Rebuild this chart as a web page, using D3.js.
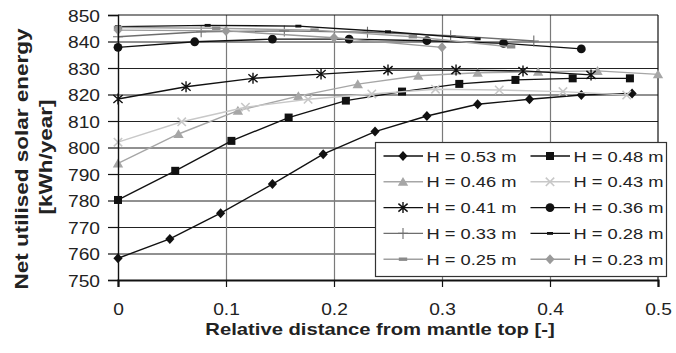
<!DOCTYPE html>
<html>
<head>
<meta charset="utf-8">
<script src="https://cdn.jsdelivr.net/npm/d3@7"></script>
<style>
  body { margin: 0; background: #fff; }
  svg { display: block; font-family: "Liberation Sans", Arial, sans-serif; }
</style>
</head>
<body>
<svg id="chart" width="676" height="353"></svg>
<script>
// tick values
var xTicks = [0, 0.1, 0.2, 0.3, 0.4, 0.5];
var yTicks = [750, 760, 770, 780, 790, 800, 810, 820, 830, 840, 850];

// series
var labels = ["H = 0.53 m", "H = 0.48 m", "H = 0.46 m", "H = 0.43 m", "H = 0.41 m",
              "H = 0.36 m", "H = 0.33 m", "H = 0.28 m", "H = 0.25 m", "H = 0.23 m"];

var x053 = [0, 0.048, 0.095, 0.143, 0.190, 0.238, 0.286, 0.333, 0.381, 0.429, 0.476];
var y053 = [758.2, 765.5, 775.2, 786.2, 797.5, 806.0, 811.9, 816.3, 818.2, 819.8, 820.4];
var x048 = [0, 0.053, 0.105, 0.158, 0.211, 0.263, 0.316, 0.368, 0.421, 0.474];
var y048 = [780.2, 791.2, 802.5, 811.3, 817.7, 821.1, 824.0, 825.5, 826.1, 826.1];
var x046 = [0, 0.056, 0.111, 0.167, 0.222, 0.278, 0.333, 0.389, 0.444, 0.5];
var y046 = [794.0, 805.1, 813.9, 819.4, 823.9, 827.1, 828.2, 828.6, 828.9, 827.6];
var x043 = [0, 0.059, 0.118, 0.176, 0.235, 0.294, 0.353, 0.412, 0.471];
var y043 = [802.0, 809.7, 815.2, 818.2, 820.2, 822.0, 821.7, 821.1, 819.8];
var x041 = [0, 0.063, 0.125, 0.188, 0.25, 0.313, 0.375, 0.438];
var y041 = [818.3, 822.9, 826.1, 827.7, 829.2, 829.2, 828.9, 827.4];
var x036 = [0, 0.071, 0.143, 0.214, 0.286, 0.357, 0.429];
var y036 = [837.8, 839.9, 840.9, 840.9, 840.3, 839.3, 837.2];
var x033 = [0, 0.077, 0.154, 0.231, 0.308, 0.385];
var y033 = [841.8, 843.7, 844.0, 843.5, 842.2, 840.2];
var x028 = [0, 0.083, 0.167, 0.25, 0.333];
var y028 = [845.6, 846.1, 845.8, 843.7, 841.0];
var x025 = [0, 0.091, 0.182, 0.273, 0.364];
var y025 = [845.3, 845.0, 844.3, 841.8, 838.0];
var x023 = [0, 0.1, 0.2, 0.3];
var y023 = [844.3, 844.0, 841.4, 837.8];

var xs = [x053, x048, x046, x043, x041, x036, x033, x028, x025, x023];
var ys = [y053, y048, y046, y043, y041, y036, y033, y028, y025, y023];

// look of each series
var styles = [
  {line: "#111", marker: "diamond", mcolor: "#111"},
  {line: "#111", marker: "square", mcolor: "#111"},
  {line: "#a6a6a6", marker: "triangle", mcolor: "#a6a6a6"},
  {line: "#c8c8c8", marker: "xmark", mcolor: "#c8c8c8"},
  {line: "#111", marker: "star", mcolor: "#111"},
  {line: "#111", marker: "circle", mcolor: "#111"},
  {line: "#6e6e6e", marker: "plus", mcolor: "#6e6e6e"},
  {line: "#111", marker: "dash", mcolor: "#111"},
  {line: "#a0a0a0", marker: "wdash", mcolor: "#8a8a8a"},
  {line: "#9a9a9a", marker: "diamond", mcolor: "#9a9a9a"}
];

var margin = {top: 15, left: 118};
var width = 540, height = 265;
var textCol = "#222";

var svg = d3.select("#chart");
var g = svg.append("g").attr("transform", "translate(" + margin.left + "," + margin.top + ")");

var x = d3.scaleLinear().domain([0, 0.5]).range([0, width]);
var y = d3.scaleLinear().domain([750, 850]).range([height, 0]);

// horizontal grid
g.append("g")
  .call(d3.axisLeft(y).tickValues(yTicks.slice(1, -1)).tickSize(-width).tickFormat(""))
  .call(function(s) { s.select(".domain").remove(); })
  .selectAll("line").attr("stroke", "#222").attr("stroke-width", 1);

// vertical grid
g.append("g")
  .attr("transform", "translate(0," + height + ")")
  .call(d3.axisBottom(x).tickValues(xTicks.slice(1, -1)).tickSize(-height).tickFormat(""))
  .call(function(s) { s.select(".domain").remove(); })
  .selectAll("line").attr("stroke", "#7a7a7a").attr("stroke-width", 1.2);

// frame top and right
g.append("line").attr("x1", 0).attr("x2", width).attr("y1", y(850)).attr("y2", y(850))
  .attr("stroke", "#111").attr("stroke-width", 1.2);
g.append("line").attr("x1", x(0.5)).attr("x2", x(0.5)).attr("y1", 0).attr("y2", height)
  .attr("stroke", "#111").attr("stroke-width", 1.2);

// markers
function marker(sel, type, color) {
  if (type === "diamond") {
    sel.append("path").attr("d", "M0,-5L4.6,0L0,5L-4.6,0Z").attr("fill", color);
  } else if (type === "square") {
    sel.append("rect").attr("x", -4).attr("y", -4).attr("width", 8).attr("height", 8).attr("fill", color);
  } else if (type === "triangle") {
    sel.append("path").attr("d", "M0,-4.8L5.2,4L-5.2,4Z").attr("fill", color);
  } else if (type === "circle") {
    sel.append("circle").attr("r", 4.4).attr("fill", color);
  } else if (type === "xmark") {
    sel.append("path").attr("d", "M-4.2,-4.2L4.2,4.2M-4.2,4.2L4.2,-4.2")
      .attr("stroke", color).attr("stroke-width", 1.6).attr("fill", "none");
  } else if (type === "star") {
    sel.append("path").attr("d", "M-4.6,-4L4.6,4M-4.6,4L4.6,-4M0,-5.5L0,5.5")
      .attr("stroke", color).attr("stroke-width", 1.4).attr("fill", "none");
  } else if (type === "plus") {
    sel.append("path").attr("d", "M0,-5.5L0,5.5M-5,0L5,0")
      .attr("stroke", color).attr("stroke-width", 1.1).attr("fill", "none");
  } else if (type === "dash") {
    sel.append("rect").attr("x", -3).attr("y", -1.4).attr("width", 6).attr("height", 2.8).attr("fill", color);
  } else if (type === "wdash") {
    sel.append("rect").attr("x", -4.2).attr("y", -1.7).attr("width", 8.4).attr("height", 3.4).attr("fill", color);
  }
}

var line = d3.line().x(function(d) { return x(d[0]); }).y(function(d) { return y(d[1]); });

// series
labels.forEach(function(lab, i) {
  var pts = xs[i].map(function(v, j) { return [v, ys[i][j]]; });
  var sg = g.append("g");
  sg.append("path").datum(pts).attr("d", line)
    .attr("fill", "none").attr("stroke", styles[i].line).attr("stroke-width", 1.4);
  sg.selectAll(".m").data(pts).enter().append("g")
    .attr("transform", function(d) { return "translate(" + x(d[0]) + "," + y(d[1]) + ")"; })
    .each(function() { marker(d3.select(this), styles[i].marker, styles[i].mcolor); });
});

// axes
var xAxis = g.append("g")
  .attr("transform", "translate(0," + height + ")")
  .call(d3.axisBottom(x).tickValues(xTicks).tickSize(7).tickFormat(d3.format("")));
xAxis.select(".domain").attr("stroke", "#111").attr("stroke-width", 2.2);
xAxis.selectAll("line").attr("stroke", "#111").attr("stroke-width", 1.2);
xAxis.selectAll("text")
  .attr("y", 35).attr("dy", 0)
  .attr("transform", "scale(1.13,1)")
  .attr("font-size", 17).attr("fill", textCol);

var yAxis = g.append("g")
  .call(d3.axisLeft(y).tickValues(yTicks).tickSize(10));
yAxis.select(".domain").attr("stroke", "#111").attr("stroke-width", 1.4);
yAxis.selectAll("line").attr("stroke", "#111").attr("stroke-width", 1.2);
yAxis.selectAll("text")
  .attr("x", -18 / 1.13).attr("dy", "0.36em")
  .attr("transform", "scale(1.13,1)")
  .attr("font-size", 17).attr("fill", textCol);

// axis titles
svg.append("text")
  .attr("transform", "translate(380,335) scale(1.19,1)")
  .attr("text-anchor", "middle").attr("font-size", 17).attr("font-weight", "bold")
  .attr("fill", textCol)
  .text("Relative distance from mantle top [-]");

svg.append("text")
  .attr("transform", "translate(28,159) rotate(-90) scale(1.25,1)")
  .attr("text-anchor", "middle").attr("font-size", 18).attr("font-weight", "bold")
  .attr("fill", textCol)
  .text("Net utilised solar energy");
svg.append("text")
  .attr("transform", "translate(52,157) rotate(-90) scale(1.25,1)")
  .attr("text-anchor", "middle").attr("font-size", 18).attr("font-weight", "bold")
  .attr("fill", textCol)
  .text("[kWh/year]");

// legend
var leg = svg.append("g").attr("transform", "translate(375.5,142.5)");
leg.append("rect").attr("width", 291).attr("height", 134)
  .attr("fill", "#fff").attr("stroke", "#333").attr("stroke-width", 1.2);

labels.forEach(function(lab, i) {
  var row = Math.floor(i / 2), col = i % 2;
  var it = leg.append("g")
    .attr("transform", "translate(" + (col === 0 ? 8 : 155) + "," + (13.5 + row * 25.8) + ")");
  it.append("line").attr("x1", 0).attr("x2", 39.5).attr("y1", 0).attr("y2", 0)
    .attr("stroke", styles[i].line).attr("stroke-width", 1.4);
  var mk = it.append("g").attr("transform", "translate(19.5,0)");
  marker(mk, styles[i].marker, styles[i].mcolor);
  it.append("text")
    .attr("transform", "translate(43,5.6) scale(1.18,1)")
    .attr("font-size", 15.5).attr("fill", textCol)
    .text(lab);
});
</script>
</body>
</html>
